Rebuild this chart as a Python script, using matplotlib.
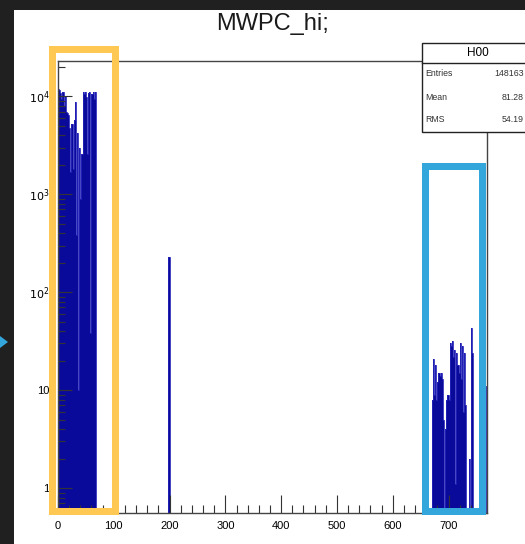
import numpy as np
import matplotlib
matplotlib.use("Agg")
import matplotlib.pyplot as plt
from matplotlib.patches import Rectangle, Polygon
from matplotlib.ticker import FixedLocator, FixedFormatter, MultipleLocator

# ---------------- data ----------------
title = "MWPC_hi;"
bin_width = 2
# left cluster: bins starting at channel 0 (width 2)
left_start = 0
left_counts = [12000, 11500, 10800, 9500, 11200, 8000, 10000, 7000,
               6800, 6500, 4800, 1700, 5200, 1800, 5700, 8700,
               380, 4200, 10, 3000, 900, 2600, 11000, 10500,
               11200, 9800, 2600, 10800, 11000, 38, 10600, 11200,
               9500, 11000, 0]
# single spike near 200
spike_start = 198
spike_counts = [230]
# right cluster: bins starting at channel 670 (width 2)
right_start = 670
right_counts = [8, 21, 9, 18, 8, 12,
                15, 14, 15, 13,
                5, 0, 4,
                8, 9, 8,
                30, 28, 32, 22,
                26, 1.1, 24,
                18, 15,
                30, 13, 28, 6, 24, 7,
                0, 0, 2, 0,
                43, 24,
                0, 0, 0, 0, 0, 0, 0, 0, 0, 0,
                27, 11]

x_ticks = [0, 100, 200, 300, 400, 500, 600, 700]
x_tick_labels = ["0", "100", "200", "300", "400", "500", "600", "700"]
y_ticks = [1, 10, 100, 1000, 10000]
y_tick_labels = ["1", "10", "$10^{2}$", "$10^{3}$", "$10^{4}$"]

stats_name = "H00"
stats_rows = [("Entries", "148163"), ("Mean", "81.28"), ("RMS", "54.19")]

# --------------- figure ---------------
W, H = 525, 544
fig = plt.figure(figsize=(W / 100, H / 100), dpi=100, facecolor="#202020")

def fx(px):
    return px / W

def fy(py):
    return 1 - py / H

# white canvas
fig.patches.append(Rectangle((fx(14), 0), 1 - fx(14), fy(10), transform=fig.transFigure,
                             facecolor="white", edgecolor="none", zorder=-5))

ax_l, ax_r, ax_t, ax_b = 58, 487, 61, 513
ax = fig.add_axes([fx(ax_l), fy(ax_b), fx(ax_r - ax_l), (ax_b - ax_t) / H])
ax.set_zorder(1)
ax.set_facecolor("white")
ax.set_yscale("log")
ax.set_xlim(0, 769)
ax.set_ylim(0.556, 23000)

fill_color = "#0A0A9A"
line_color = "#2424B8"

def draw_block(start, counts):
    counts = np.asarray(counts, dtype=float)
    edges = start + bin_width * np.arange(len(counts) + 1)
    vals = np.where(counts > 0, counts, 1e-2)
    ax.stairs(vals, edges, baseline=1e-2, color=fill_color, fill=True, linewidth=0)
    ax.stairs(vals, edges, baseline=1e-2, color=line_color, linewidth=0.6, fill=False)

draw_block(left_start, left_counts)
draw_block(spike_start, spike_counts)
draw_block(right_start, right_counts)

# ticks ROOT-like (inside)
ax.xaxis.set_major_locator(FixedLocator(x_ticks))
ax.xaxis.set_major_formatter(FixedFormatter(x_tick_labels))
ax.xaxis.set_minor_locator(MultipleLocator(20))
ax.yaxis.set_major_locator(FixedLocator(y_ticks))
ax.yaxis.set_major_formatter(FixedFormatter(y_tick_labels))
ax.tick_params(axis="both", which="both", direction="in", top=False, right=False,
               colors="#333333", labelcolor="black")
ax.tick_params(axis="x", which="major", length=13, width=0.8, labelsize=8, pad=6)
ax.tick_params(axis="x", which="minor", length=6, width=0.8)
ax.tick_params(axis="y", which="major", length=10, width=0.8, labelsize=8, pad=6)
ax.tick_params(axis="y", which="minor", length=5, width=0.8)
for lab in ax.get_xticklabels() + ax.get_yticklabels():
    lab.set_fontfamily("Liberation Sans")
for s in ax.spines.values():
    s.set_color("#444444")
    s.set_linewidth(1)

# title
fig.text(fx(273), fy(30), title, ha="center", va="baseline", fontsize=17,
         family="Liberation Sans", color="#1a1a1a")

# stats box
bx0, bx1, by0, by1 = 422, 527, 43, 132
fig.patches.append(Rectangle((fx(bx0), fy(by1)), fx(bx1 - bx0), (by1 - by0) / H,
                             transform=fig.transFigure, facecolor="white",
                             edgecolor="#222222", linewidth=1, zorder=5))
fig.add_artist(plt.Line2D([fx(bx0), fx(bx1)], [fy(63), fy(63)], color="#222222",
                          linewidth=1, transform=fig.transFigure, zorder=6))
fig.text(fx(478), fy(53), stats_name, ha="center", va="center", fontsize=8.5,
         family="Liberation Sans", zorder=7)
row_y = [73, 97, 120]
for (k, v), yy in zip(stats_rows, row_y):
    fig.text(fx(425), fy(yy), k, ha="left", va="center", fontsize=6.3,
             family="Liberation Sans", color="#333333", zorder=7)
    fig.text(fx(524), fy(yy), v, ha="right", va="center", fontsize=6.3,
             family="Liberation Sans", color="#333333", zorder=7)

# highlight rectangles
lw_px = 7
def frame(x0, y0, x1, y1, color):
    h = lw_px / 2
    r = Rectangle((fx(x0 + h), fy(y1 - h)), fx(x1 - x0 - lw_px), (y1 - y0 - lw_px) / H,
                  transform=fig.transFigure, facecolor="none", edgecolor=color,
                  linewidth=lw_px * 0.72, zorder=10, joinstyle="miter")
    fig.patches.append(r)

frame(48, 45, 118, 514, "#FEC852")
frame(421, 162, 485, 514, "#33A6DB")

# small arrow at the left edge
fig.patches.append(Polygon([[fx(0), fy(336)], [fx(8), fy(342)], [fx(0), fy(348)]],
                           closed=True, transform=fig.transFigure,
                           facecolor="#33A6DB", edgecolor="none", zorder=10))

fig.savefig("out.png", dpi=100, facecolor=fig.get_facecolor())
